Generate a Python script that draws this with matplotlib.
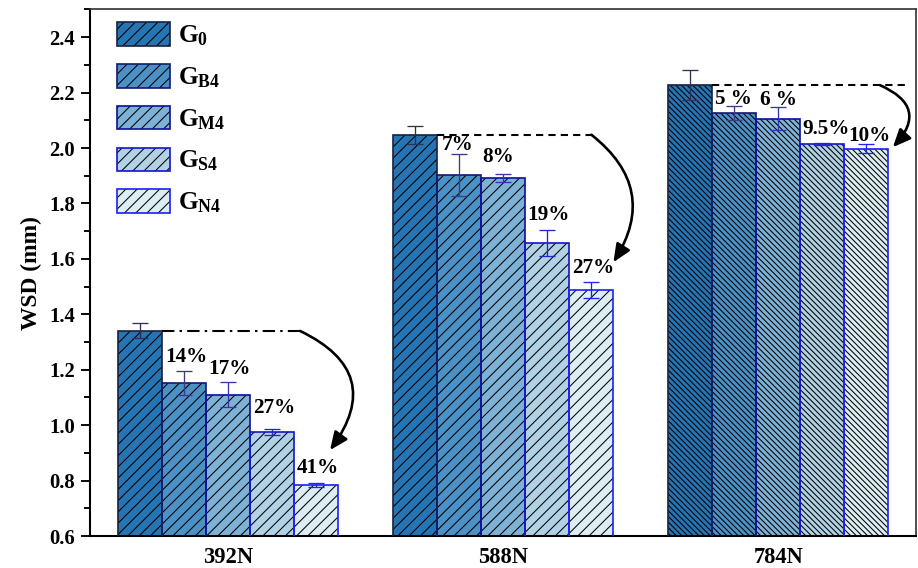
import numpy as np
import matplotlib
matplotlib.use("Agg")
import matplotlib.pyplot as plt
from matplotlib.patches import Patch
from matplotlib.legend_handler import HandlerTuple
from matplotlib.ticker import MultipleLocator

DPI = 135

loads = ["392N", "588N", "784N"]
series = ["G_0", "G_{B4}", "G_{M4}", "G_{S4}", "G_{N4}"]

# WSD (mm) per load, one row per series
wsd = np.array([
    [1.340, 2.048, 2.227],   # G0
    [1.153, 1.903, 2.126],   # GB4
    [1.110, 1.891, 2.106],   # GM4
    [0.975, 1.657, 2.016],   # GS4
    [0.785, 1.489, 1.998],   # GN4
])
wsd_err = np.array([
    [0.027, 0.033, 0.054],
    [0.044, 0.077, 0.025],
    [0.046, 0.014, 0.041],
    [0.011, 0.046, 0.004],
    [0.008, 0.029, 0.015],
])

# reduction relative to G0, for GB4..GN4
reduction = [
    ["14%", "17%", "27%", "41%"],
    ["7%", "8%", "19%", "27%"],
    ["5 %", "6 %", "9.5%", "10%"],
]
# label nudges in pixels (dx, dy above the error bar top)
label_dx = [[3, 2, 3, 2], [-1, -5, 1, 2], [-1, 0, 4, 3]]
label_dy = [[14, 13, 21, 15], [9, 17, 15, 14], [7, 7, 14, 8]]

face_colors = ["#2574b3", "#4b91c6", "#7db2d6", "#b0d2e4", "#dceef4"]
edge_colors = ["#1c2340", "#151b70", "#1010a0", "#1818cc", "#2020ff"]
err_colors = ["#303050", "#3a3a85", "#3535a5", "#2525d0", "#2020f0"]
group_hatch = ["////", "////", "\\" * 8]

# reference line end (x offset from group centre) and arrow start / tip
ref_line_end = [0.263, 0.321, 0.471]
arrow_start_x = [0.263, 0.321, 0.369]
arrow_tip = [(0.372, 0.910), (0.401, 1.588), (0.416, 2.003)]
arrow_rad = [-0.6, -0.45, -0.7]
ref_styles = [(0, (6, 2.5, 1.2, 2.5)), (0, (3.5, 2.5)), (0, (3.5, 2.5))]

plt.rcParams["font.family"] = ["Liberation Serif", "DejaVu Serif"]
plt.rcParams["font.weight"] = "bold"
plt.rcParams["mathtext.fontset"] = "custom"
plt.rcParams["mathtext.rm"] = "Liberation Serif:bold"
plt.rcParams["mathtext.it"] = "Liberation Serif:bold"
plt.rcParams["mathtext.bf"] = "Liberation Serif:bold"
plt.rcParams["hatch.linewidth"] = 0.55

fig = plt.figure(figsize=(918 / DPI, 568.01 / DPI), dpi=DPI)
ax = fig.add_axes([90 / 918, 32 / 568, 826 / 918, 526.5 / 568])

w = 0.16
x = np.arange(len(loads))
px = 72 / DPI

for j in range(len(series)):
    xs = x + (j - 2) * w
    for g in range(len(loads)):
        # fill, black hatch, then coloured outline on top
        ax.bar(xs[g], wsd[j, g], w, bottom=0, color=face_colors[j], lw=0, zorder=2)
        ax.bar(xs[g], wsd[j, g], w, facecolor="none", edgecolor="black",
               hatch=group_hatch[g], lw=0, zorder=3)
        ax.bar(xs[g], wsd[j, g], w, facecolor="none", edgecolor=edge_colors[j],
               lw=0.9, zorder=4)
    ax.errorbar(xs, wsd[j], yerr=wsd_err[j], fmt="none", ecolor=err_colors[j],
                elinewidth=0.7, capsize=4.5, capthick=0.7, zorder=5)

for g in range(len(loads)):
    for k in range(4):
        j = k + 1
        xb = x[g] + (j - 2) * w
        top = wsd[j, g] + wsd_err[j, g]
        ax.annotate(reduction[g][k], (xb, top),
                    xytext=(label_dx[g][k] * px, label_dy[g][k] * px),
                    textcoords="offset points", ha="center", va="center",
                    fontsize=11.3, fontweight="bold", zorder=6)

    # G0 reference level and the arrow down to the last bar
    x0 = x[g] - 2 * w + w / 2
    ax.plot([x0, x[g] + ref_line_end[g]], [wsd[0, g], wsd[0, g]], color="black",
            lw=1.1, linestyle=ref_styles[g], zorder=6)
    tx, ty = arrow_tip[g]
    ax.annotate("", xy=(x[g] + tx, ty), xytext=(x[g] + arrow_start_x[g], wsd[0, g]),
                arrowprops=dict(arrowstyle="-|>,head_length=0.8,head_width=0.35",
                                color="black", lw=1.4,
                                connectionstyle=f"arc3,rad={arrow_rad[g]}",
                                shrinkA=0, shrinkB=0),
                zorder=6)

ax.set_xlim(-0.5, 2.5)
ax.set_ylim(0.6, 2.5)
ax.set_xticks(x)
ax.set_xticklabels(loads, fontsize=12, fontweight="bold")
ax.tick_params(axis="x", length=0, pad=6)
ax.yaxis.set_major_locator(MultipleLocator(0.2))
ax.yaxis.set_minor_locator(MultipleLocator(0.1))
ax.tick_params(axis="y", which="major", length=5, width=1.0, labelsize=11, pad=3)
ax.tick_params(axis="y", which="minor", length=3, width=1.0)
for lbl in ax.get_yticklabels():
    lbl.set_fontweight("bold")
ax.set_ylabel("WSD (mm)", fontsize=12.5, fontweight="bold", labelpad=4)

for side in ["left", "bottom"]:
    ax.spines[side].set_linewidth(1.1)
for side in ["top", "right"]:
    ax.spines[side].set_linewidth(0.9)
    ax.spines[side].set_color("#333333")

handles = []
for j in range(len(series)):
    fill = Patch(facecolor=face_colors[j], edgecolor="none", lw=0)
    hatch = Patch(facecolor="none", edgecolor="black", hatch="////", lw=0)
    outline = Patch(facecolor="none", edgecolor=edge_colors[j], lw=0.9)
    handles.append((fill, hatch, outline))
labels = [f"${s}$" for s in series]
ax.legend(handles, labels, handler_map={tuple: HandlerTuple(ndivide=1, pad=0)},
          loc="upper left", bbox_to_anchor=(27 / 826, 1 - 13 / 526.5),
          frameon=False, fontsize=13.5, handlelength=2.1, handleheight=1.05,
          handletextpad=0.3, labelspacing=0.62, borderpad=0, borderaxespad=0)

fig.savefig("out.png", dpi=DPI)
